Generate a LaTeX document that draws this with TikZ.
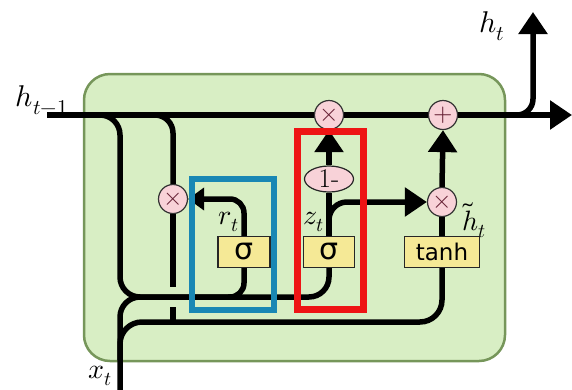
\documentclass[tikz,border=0pt]{standalone}
\usepackage{fontspec}
\usepackage{unicode-math}
\newfontfamily\dejavu{DejaVu Sans}
\usetikzlibrary{arrows.meta,shapes.geometric,backgrounds}
\pgfdeclarelayer{fg}
\pgfsetlayers{background,main,fg}
\definecolor{gfill}{RGB}{216,238,196}
\definecolor{gborder}{RGB}{118,150,90}
\definecolor{rboxc}{RGB}{238,20,20}
\definecolor{bboxc}{RGB}{25,135,180}
\definecolor{pinkf}{RGB}{248,210,216}
\definecolor{yel}{RGB}{245,233,150}
\definecolor{xcol}{RGB}{100,30,50}
\newcommand{\ctrsym}[1]{\smash{\raisebox{-0.25em}{\makebox[0pt]{$#1$}}}}
\begin{document}
\begin{tikzpicture}[x=1pt,y=-1pt,
  wire/.style={line width=5.5pt, black},
  tipd/.style={-{Triangle[length=22pt,width=28pt]}},
  tips/.style={-{Triangle[length=16pt,width=22pt]}},
  mult/.style={circle, draw=black!80, line width=1.2pt, fill=pinkf, minimum size=29pt, inner sep=0pt, font=\fontsize{25}{25}\selectfont, text=xcol},
  gate/.style={rectangle, draw=black!85, line width=1.2pt, fill=yel, minimum height=31pt, inner sep=0pt},
  lbl/.style={inner sep=0pt, font=\fontsize{28}{32}\selectfont},
  hl/.style={rectangle, inner sep=0pt, fill=none}
]
\useasboundingbox (0,0) rectangle (572,389);
\begin{pgfonlayer}{background}
\node[draw=gborder, fill=gfill, line width=2.5pt, rounded corners=26pt, minimum width=421pt, minimum height=287pt, inner sep=0pt] (cell) at (294.5,217.5) {};
\end{pgfonlayer}

% nodes
\node[mult] (m1) at (329,115) {\ctrsym{\times}};
\node[mult] (p1) at (443,115) {\ctrsym{+}};
\node[mult] (m2) at (173,199) {\ctrsym{\times}};
\node[mult] (m3) at (442,202) {\ctrsym{\times}};
\node[ellipse, draw=black!85, fill=pinkf, line width=1.2pt, minimum width=49pt, minimum height=26pt, inner sep=0pt, font=\fontsize{27}{27}\selectfont] (om) at (329,179) {\smash{\raisebox{-0.33em}{1-}}};
\node[gate, minimum width=52pt, font=\dejavu\fontsize{30}{30}\selectfont] (sr) at (244,252) {σ};
\node[gate, minimum width=51pt, font=\dejavu\fontsize{30}{30}\selectfont] (sz) at (329,252) {σ};
\node[gate, minimum width=75pt, font=\dejavu\fontsize{23}{23}\selectfont] (th) at (442,252) {tanh};

% coordinates
\coordinate (hin) at (47,115);
\coordinate (hout) at (572,115);
\coordinate (hbr) at (505,115);
\coordinate (ht) at (533,12);
\coordinate (brA) at (96,115);
\coordinate (busA) at (120,297);
\coordinate (busM) at (230,297);
\coordinate (xt) at (120,392);
\coordinate (brB) at (148,115);
\coordinate (gapT) at (173,287);
\coordinate (gapB) at (173,307);
\coordinate (low) at (173,322);
\coordinate (xbr) at (120,360);
\coordinate (lowR) at (442,322);
\coordinate (rjoin) at (228,297);
\coordinate (zbr) at (329,228);

% wires
\draw[wire] (hin) -- (m1);
\draw[wire] (m1) -- (p1);
\draw[wire,tipd] (p1) -- (hout);
\draw[wire,tipd,rounded corners=16pt] (hbr) -| (ht);
\draw[wire,rounded corners=20pt] (brA) -| (busA) -| (sz.south);
\draw[wire,rounded corners=20pt] (xt) |- (busM);
\draw[wire,rounded corners=22pt] (xbr) |- (lowR) -- (th.south);
\draw[wire,rounded corners=18pt] (brB) -| (m2.north);
\draw[wire] (m2.south) -- (gapT);
\draw[wire] (gapB) -- (low);
\draw[wire,tips,rounded corners=14pt] (sr.north) |- (m2.east);
\draw[wire,rounded corners=14pt] (sr.south) |- (rjoin);
\draw[wire] (sz.north) -- (om.south);
\draw[wire,tipd] (om.north) -- (m1.south);
\draw[wire,tipd,rounded corners=18pt] (zbr) |- (m3.west);
\draw[wire] (th.north) -- (m3.south);
\draw[wire,tipd] (m3.north) -- (p1.south);

% highlight boxes
\begin{pgfonlayer}{fg}
\node[hl, draw=rboxc, line width=7pt, minimum width=66pt, minimum height=178pt] (zbox) at (330.5,220.5) {};
\node[hl, draw=bboxc, line width=6pt, minimum width=82pt, minimum height=131pt] (rbox) at (233,244.5) {};
\end{pgfonlayer}

% labels
\node[lbl, font=\fontsize{30}{34}\selectfont] (lh) at (42,100) {$h_{t-1}$};
\node[lbl, font=\fontsize{30}{34}\selectfont] (lht) at (492,26) {$h_t$};
\node[lbl] (lx) at (100,376) {$x_t$};
\node[lbl] (lr) at (229,222) {$r_t$};
\node[lbl] (lz) at (314,222) {$z_t$};
\node[lbl] (lhtil) at (474,220) {$\tilde{h}_t$};
\end{tikzpicture}
\end{document}
